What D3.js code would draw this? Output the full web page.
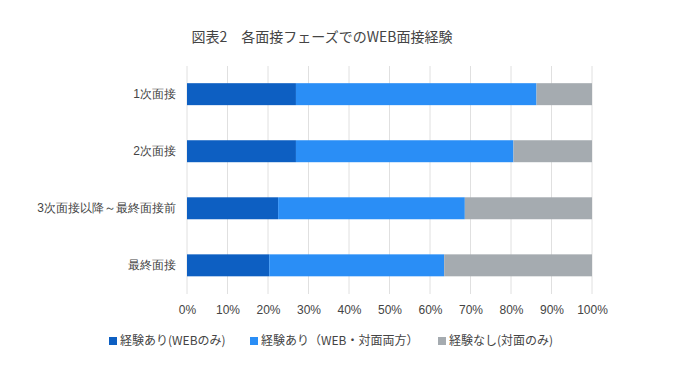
<!DOCTYPE html>
<html><head><meta charset="utf-8">
<script src="https://cdn.jsdelivr.net/npm/d3@7"></script>
<style>
body{margin:0;background:#fff;}
svg{display:block;font-family:"Noto Sans CJK JP","Noto Sans",sans-serif;}
</style></head>
<body><svg id="c" width="700" height="378"></svg>
<script>
const categories = ["1次面接","2次面接","3次面接以降～最終面接前","最終面接"];
const seriesNames = ["経験あり(WEBのみ)","経験あり（WEB・対面両方）","経験なし(対面のみ)"];
const webOnly = [26.9, 26.9, 22.5, 20.3];
const both = [59.4, 53.7, 46.1, 43.2];
const none = [13.7, 19.4, 31.4, 36.5];
const tickValues = [0,0.1,0.2,0.3,0.4,0.5,0.6,0.7,0.8,0.9,1.0];
const colors = ["#0d5fc2","#2a8ef6","#a5abb0"];
const title = "図表2　各面接フェーズでのWEB面接経験";

const svg = d3.select("#c");
const x = d3.scaleLinear().domain([0,1]).range([187,592]);
const y = d3.scaleBand().domain(categories).range([65.5,294]).paddingInner(0.615).paddingOuter(0.31);

// gridlines
svg.append("g").selectAll("line").data(tickValues).join("line")
  .attr("x1",d=>x(d)).attr("x2",d=>x(d)).attr("y1",66).attr("y2",294)
  .attr("stroke","#e0e0e0").attr("stroke-width",1);

const rows = categories.map((c,i)=>({cat:c, vals:[webOnly[i],both[i],none[i]]}));
const stackData = rows.map(r=>{const o={cat:r.cat}; seriesNames.forEach((s,j)=>o[s]=r.vals[j]/100); return o;});
const stacked = d3.stack().keys(seriesNames)(stackData);

svg.append("g").selectAll("g").data(stacked).join("g")
  .attr("fill",(d,i)=>colors[i])
  .selectAll("rect").data(d=>d).join("rect")
  .attr("x",d=>x(d[0])).attr("width",d=>x(d[1])-x(d[0]))
  .attr("y",d=>y(d.data.cat)).attr("height",y.bandwidth());

// axes
const xAxis = d3.axisBottom(x).tickValues(tickValues).tickFormat(d3.format(".0%")).tickSize(0).tickPadding(0);
const gx = svg.append("g").attr("transform","translate(0,305)").call(xAxis);
gx.select(".domain").remove();
gx.selectAll("text").attr("fill","#444").attr("font-size","12px").attr("dy","0.71em");

const yAxis = d3.axisLeft(y).tickSize(0).tickPadding(11);
const gy = svg.append("g").attr("transform","translate(187,0)").call(yAxis);
gy.select(".domain").remove();
gy.selectAll("text").attr("fill","#444").attr("font-size","12px");

// title
svg.append("text").attr("x",322).attr("y",42).attr("text-anchor","middle")
  .attr("font-size","14px").attr("fill","#444").text(title);

// legend
const legX = [109, 250, 438];
const lg = svg.append("g").selectAll("g").data(seriesNames).join("g")
  .attr("transform",(d,i)=>`translate(${legX[i]},340)`);
lg.append("rect").attr("x",0).attr("y",-3).attr("width",8).attr("height",8).attr("fill",(d,i)=>colors[i]);
lg.append("text").attr("x",11).attr("y",1).attr("dy","0.35em").attr("font-size","12px").attr("fill","#444").text(d=>d);
</script></body></html>
